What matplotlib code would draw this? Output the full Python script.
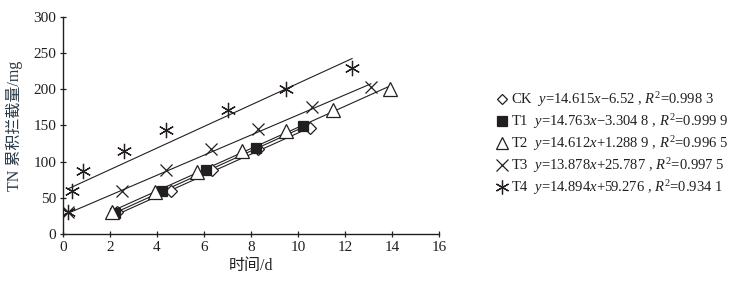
import numpy as np
import matplotlib
matplotlib.use("Agg")
import matplotlib.pyplot as plt
from matplotlib.lines import Line2D

plt.rcParams['font.family'] = ['Liberation Serif', 'Noto Sans CJK SC']
plt.rcParams['mathtext.fontset'] = 'custom'
plt.rcParams['mathtext.rm'] = 'Liberation Serif'
plt.rcParams['mathtext.it'] = 'Liberation Serif:italic'

names = ["CK", "T1", "T2", "T3", "T4"]

ck_x = [2.3, 4.6, 6.35, 8.3, 10.5]
ck_y = [30, 60, 88, 117, 147]
t1_x = [2.2, 4.2, 6.1, 8.2, 10.2]
t1_y = [29, 60, 89, 119, 149]
t2_x = [2.1, 3.9, 5.7, 7.6, 9.5, 11.5, 13.9]
t2_y = [30, 58, 86, 115, 143, 171, 200]
t3_x = [0.2, 2.5, 4.4, 6.3, 8.3, 10.6, 13.1]
t3_y = [30, 59, 88, 117, 145, 175, 203]
t4_x = [0.2, 0.4, 0.85, 2.6, 4.4, 7.0, 9.5, 12.3]
t4_y = [30, 59, 87, 115, 144, 172, 201, 230]

# regression lines as given in the legend
slopes = [14.615, 14.763, 14.612, 13.878, 14.894]
intercepts = [-6.52, -3.3048, 1.2889, 25.787, 59.276]
equations = [
    r"$y$=14.615$x$$-$6.52 , $R^2$=0.998 3",
    r"$y$=14.763$x$$-$3.304 8 , $R^2$=0.999 9",
    r"$y$=14.612$x$+1.288 9 , $R^2$=0.996 5",
    r"$y$=13.878$x$+25.787 , $R^2$=0.997 5",
    r"$y$=14.894$x$+59.276 , $R^2$=0.934 1",
]

xs = [ck_x, t1_x, t2_x, t3_x, t4_x]
ys = [ck_y, t1_y, t2_y, t3_y, t4_y]
ink = "#231f20"
markers = [
    dict(marker="D", ms=6, mfc="white", mec=ink, mew=0.9),
    dict(marker="s", ms=7.5, mfc=ink, mec=ink, mew=0.9),
    dict(marker="^", ms=10, mfc="white", mec=ink, mew=0.9),
    dict(marker="x", ms=9, mfc="none", mec=ink, mew=0.9),
    dict(marker=(6, 2, 0), ms=11, mfc="none", mec=ink, mew=0.9),
]
leg_markers = [
    dict(marker="D", ms=5, mfc="white", mec=ink, mew=0.9),
    dict(marker="s", ms=6.5, mfc=ink, mec=ink, mew=0.9),
    dict(marker="^", ms=8.5, mfc="white", mec=ink, mew=0.9),
    dict(marker="x", ms=9, mfc="none", mec=ink, mew=0.9),
    dict(marker=(6, 2, 0), ms=10, mfc="none", mec=ink, mew=0.9),
]

fig = plt.figure(figsize=(7.45, 2.82), dpi=100)
ax = fig.add_axes([0.0846, 0.170, 0.5047, 0.770])

for i in range(5):
    x = np.array(xs[i])
    xl = np.array([x.min(), x.max()])
    ax.plot(xl, slopes[i] * xl + intercepts[i], color=ink, lw=0.8, zorder=2)
    ax.plot(x, ys[i], ls="none", zorder=3, **markers[i])

ax.set_xlim(0, 16)
ax.set_ylim(0, 300)
ax.set_xticks(np.arange(0, 17, 2))
ax.set_yticks(np.arange(0, 301, 50))
ax.spines["top"].set_visible(False)
ax.spines["right"].set_visible(False)
for s in ["left", "bottom"]:
    ax.spines[s].set_color(ink)
    ax.spines[s].set_linewidth(1.0)
ax.tick_params(direction="inout", length=5, width=0.9, colors=ink,
               labelsize=11, pad=2.5)
ax.set_xlabel("时间/d", fontsize=11.5, color=ink, labelpad=3)
ax.set_ylabel("TN 累积拦截量/mg", fontsize=11.5, color="#2c3b48", labelpad=7)

handles = [Line2D([], [], ls="none", **leg_markers[i]) for i in range(5)]
labels = [f"{names[i]}  {equations[i]}" for i in range(5)]
fig.legend(handles, labels, loc="center left", bbox_to_anchor=(0.66, 0.49),
           frameon=False, fontsize=10.5, handlelength=0.6, handletextpad=0.35,
           labelspacing=0.22, labelcolor=ink, borderaxespad=0)

fig.savefig("out.png", dpi=100)
